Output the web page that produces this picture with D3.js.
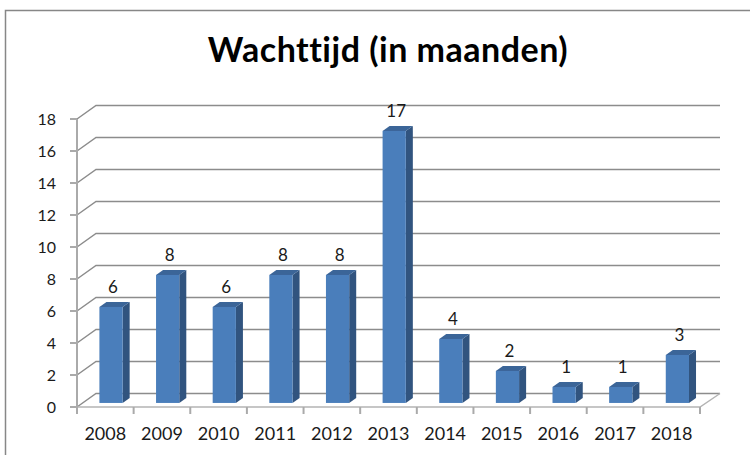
<!DOCTYPE html>
<html>
<head>
<meta charset="utf-8">
<script src="https://cdn.jsdelivr.net/npm/d3@7"></script>
<style>
  body { margin: 0; background: #fff; }
  text { font-family: Lato, "Noto Sans", sans-serif; fill: #1a1a1a; }
</style>
</head>
<body>
<svg id="chart" width="750" height="455"></svg>
<script>
// data
const years = ['2008', '2009', '2010', '2011', '2012', '2013', '2014', '2015', '2016', '2017', '2018'];
const wachttijd = [6, 8, 6, 8, 8, 17, 4, 2, 1, 1, 3];
const yTicks = [0, 2, 4, 6, 8, 10, 12, 14, 16, 18];
const title = 'Wachttijd (in maanden)';

const svg = d3.select('#chart');

// outer frame (only top/left visible)
svg.append('path')
    .attr('d', 'M5.5,460 L5.5,10.5 L760,10.5')
    .attr('fill', 'none')
    .attr('stroke', '#878787')
    .attr('stroke-width', 1.5);

svg.append('text')
    .attr('x', 388)
    .attr('y', 62)
    .attr('text-anchor', 'middle')
    .style('font-size', '34px')
    .style('font-weight', 'bold')
    .style('letter-spacing', '0.5px')
    .style('fill', '#000')
    .text(title);

// plot geometry
const left = 77, right = 700, floorY = 407;
const depthX = 19, depthY = -13.5;

const x = d3.scaleBand().domain(years).range([left, right]);
const y = d3.scaleLinear().domain([0, 18]).range([floorY, 119]);

const g = svg.append('g');

// back wall gridlines + left wall diagonals
const grid = g.append('g').attr('class', 'grid');
grid.selectAll('path').data(yTicks)
    .join('path')
    .attr('d', d => `M${left},${y(d)} L${left + depthX},${y(d) + depthY} L${right + depthX + 1},${y(d) + depthY}`)
    .attr('fill', 'none')
    .attr('stroke', '#8c8c8c')
    .attr('stroke-width', 1.5);

// floor outline
g.append('path')
    .attr('d', `M${left},${floorY} L${right},${floorY} L${right + depthX + 1},${floorY + depthY}`)
    .attr('fill', 'none')
    .attr('stroke', '#b4b4b4')
    .attr('stroke-width', 1.5);

// y axis
const yAxis = g.append('g').attr('class', 'yaxis');
yAxis.append('line')
    .attr('x1', left).attr('x2', left)
    .attr('y1', y(18)).attr('y2', floorY)
    .attr('stroke', '#aaaaaa')
    .attr('stroke-width', 2);
yAxis.selectAll('line.tick').data(yTicks)
    .join('line')
    .attr('class', 'tick')
    .attr('x1', left - 7).attr('x2', left)
    .attr('y1', d => y(d)).attr('y2', d => y(d))
    .attr('stroke', '#aaaaaa')
    .attr('stroke-width', 2);
yAxis.selectAll('text').data(yTicks)
    .join('text')
    .attr('x', 56)
    .attr('y', d => y(d))
    .attr('dy', '0.35em')
    .attr('text-anchor', 'end')
    .style('font-size', '16px')
    .text(d => d);

// x axis ticks + labels
const xAxis = g.append('g').attr('class', 'xaxis');
const tickXs = years.map(d => x(d)).concat([right]);
xAxis.selectAll('line').data(tickXs)
    .join('line')
    .attr('x1', d => d).attr('x2', d => d)
    .attr('y1', floorY).attr('y2', floorY + 7)
    .attr('stroke', '#aaaaaa')
    .attr('stroke-width', 2);
xAxis.selectAll('text').data(years)
    .join('text')
    .attr('x', d => x(d) + x.bandwidth() / 2)
    .attr('y', 440)
    .attr('text-anchor', 'middle')
    .style('font-size', '18px')
    .text(d => d);

// 3d bars
const bw = x.bandwidth() * 0.41;
const f0 = 0.3, f1 = 0.67;
const ox = depthX * f0, oy = depthY * f0;
const sx = depthX * (f1 - f0), sy = depthY * (f1 - f0);
const bars = g.append('g').attr('class', 'bars')
    .selectAll('g').data(years.map((d, i) => ({year: d, value: wachttijd[i]})))
    .join('g')
    .attr('transform', d => `translate(${x(d.year) + x.bandwidth() / 2 + ox - bw / 2},${oy})`);

bars.append('path') // side
    .attr('d', d => `M${bw},${y(d.value)} L${bw + sx},${y(d.value) + sy} L${bw + sx},${floorY + sy} L${bw},${floorY} Z`)
    .attr('fill', '#31547f');
bars.append('path') // top
    .attr('d', d => `M0,${y(d.value)} L${sx},${y(d.value) + sy} L${bw + sx},${y(d.value) + sy} L${bw},${y(d.value)} Z`)
    .attr('fill', '#3b6598');
bars.append('rect') // front
    .attr('x', 0)
    .attr('y', d => y(d.value))
    .attr('width', bw)
    .attr('height', d => floorY - y(d.value))
    .attr('fill', '#4a7ebb');
bars.append('text')
    .attr('x', bw / 2 + 2)
    .attr('y', d => y(d.value) + sy - 9)
    .attr('text-anchor', 'middle')
    .style('font-size', '17px')
    .text(d => d.value);
</script>
</body>
</html>
